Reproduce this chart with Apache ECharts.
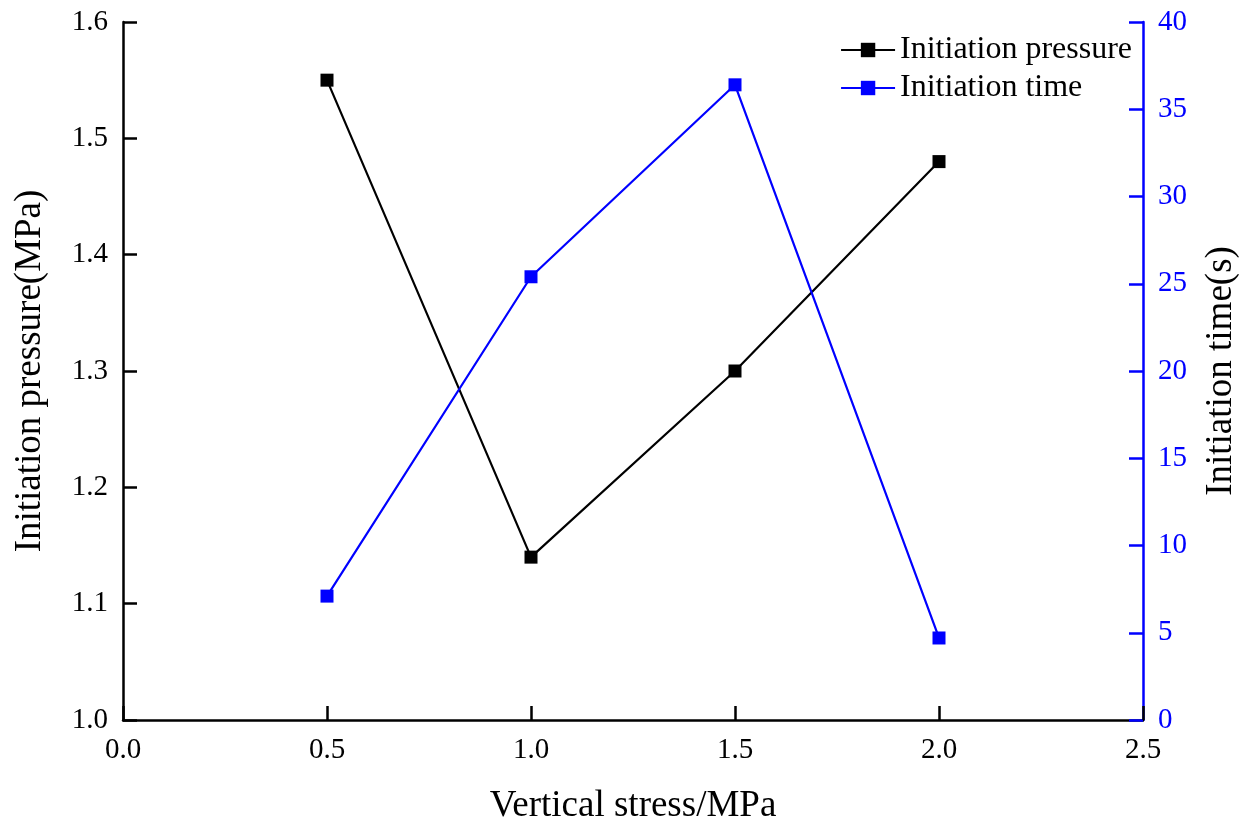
<!DOCTYPE html>
<html>
<head>
<meta charset="utf-8">
<script src="https://cdn.jsdelivr.net/npm/echarts@6/dist/echarts.min.js"></script>
<style>
  html, body { margin: 0; padding: 0; background: #fff; }
  #main { width: 1250px; height: 822px; }
</style>
</head>
<body>
<div id="main"></div>
<script>
  // data
  var stress = [0.5, 1.0, 1.5, 2.0]
  var pressure = [1.55, 1.14, 1.30, 1.48]
  var initTime = [7.1, 25.4, 36.4, 4.7]

  var font = 'Liberation Serif'
  var pressData = stress.map(function (x, i) { return [x, pressure[i]] })
  var timeData = stress.map(function (x, i) { return [x, initTime[i]] })

  var myChart = echarts.init(document.getElementById('main'))
  myChart.setOption({
    animation: false,
    textStyle: { fontFamily: font },
    grid: { left: 123, right: 107, top: 22, bottom: 102, outerBoundsMode: 'none', containLabel: false },
    legend: {
      right: 113,
      top: 29,
      orient: 'vertical',
      itemGap: 6,
      itemWidth: 54,
      itemHeight: 18,
      textStyle: { fontFamily: font, fontSize: 32, color: '#000' },
      data: ['Initiation pressure', 'Initiation time']
    },
    xAxis: {
      type: 'value',
      min: 0, max: 2.5, interval: 0.5,
      name: 'Vertical stress/MPa',
      nameLocation: 'middle',
      nameGap: 68,
      nameTextStyle: { fontFamily: font, fontSize: 37, color: '#000' },
      axisLine: { lineStyle: { color: '#000', width: 2.5 } },
      axisTick: { inside: true, length: 14, lineStyle: { color: '#000', width: 2.5 } },
      axisLabel: { fontFamily: font, fontSize: 29, color: '#000', margin: 16,
        formatter: function (v) { return v.toFixed(1) } },
      splitLine: { show: false }
    },
    yAxis: [
      {
        type: 'value',
        min: 1.0, max: 1.6, interval: 0.1,
        name: 'Initiation pressure(MPa)',
        nameLocation: 'middle',
        nameGap: 74,
        nameTextStyle: { fontFamily: font, fontSize: 37, color: '#000' },
        axisLine: { show: true, lineStyle: { color: '#000', width: 2.5 } },
        axisTick: { show: true, inside: true, length: 14, lineStyle: { color: '#000', width: 2.5 } },
        axisLabel: { fontFamily: font, fontSize: 29, color: '#000', margin: 15,
          formatter: function (v) { return v.toFixed(1) } },
        splitLine: { show: false }
      },
      {
        type: 'value',
        position: 'right',
        min: 0, max: 40, interval: 5,
        name: 'Initiation time(s)',
        nameLocation: 'middle',
        nameGap: 60,
        nameRotate: 90,
        nameTextStyle: { fontFamily: font, fontSize: 37, color: '#000' },
        axisLine: { show: true, lineStyle: { color: '#0000ff', width: 2.5 } },
        axisTick: { show: true, inside: true, length: 14, lineStyle: { color: '#0000ff', width: 2.5 } },
        axisLabel: { fontFamily: font, fontSize: 29, color: '#0000ff', margin: 15 },
        splitLine: { show: false }
      }
    ],
    series: [
      {
        name: 'Initiation pressure',
        type: 'line',
        yAxisIndex: 0,
        data: pressData,
        symbol: 'rect',
        symbolSize: 13,
        color: '#000',
        lineStyle: { color: '#000', width: 2.2 },
        itemStyle: { color: '#000' }
      },
      {
        name: 'Initiation time',
        type: 'line',
        yAxisIndex: 1,
        data: timeData,
        symbol: 'rect',
        symbolSize: 13,
        color: '#0000ff',
        lineStyle: { color: '#0000ff', width: 2.2 },
        itemStyle: { color: '#0000ff' }
      }
    ]
  })
</script>
</body>
</html>
